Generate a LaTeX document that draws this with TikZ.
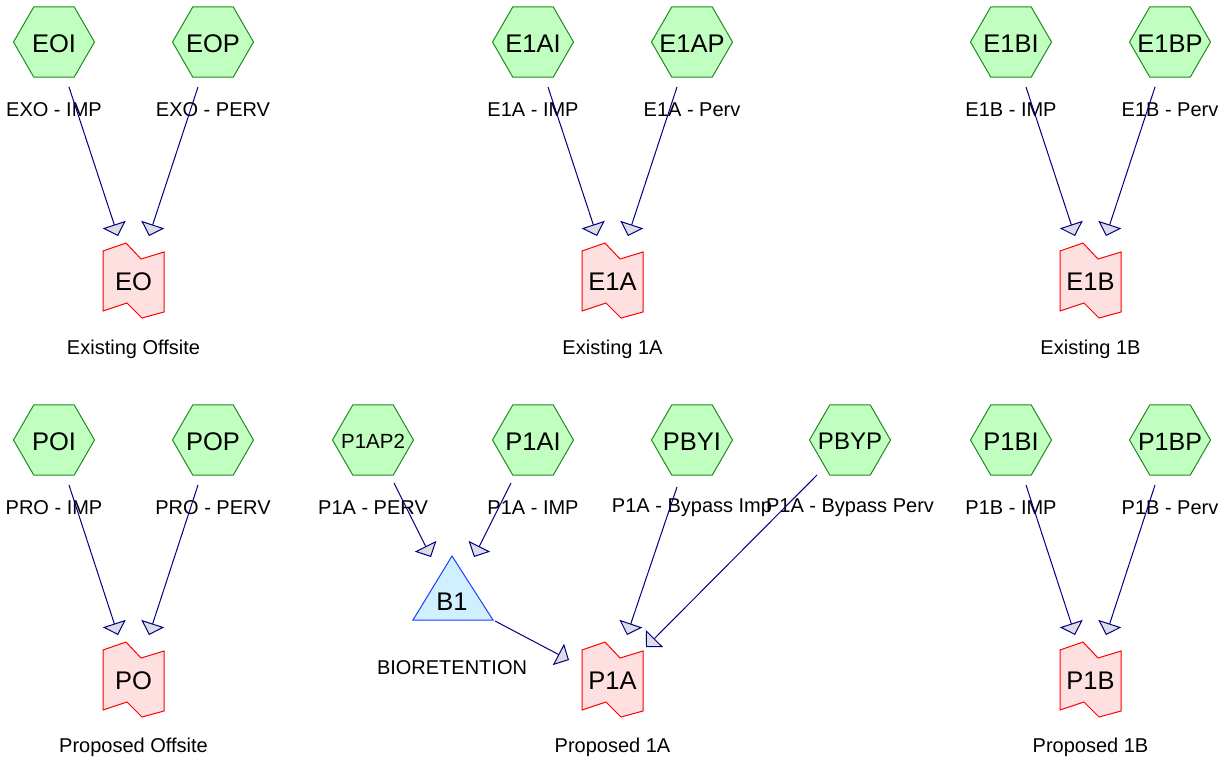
\documentclass[tikz,border=0pt]{standalone}
\usepackage{fontspec}
\setmainfont{Liberation Sans}
\usetikzlibrary{shapes.geometric,arrows.meta,calc}
\definecolor{hexfill}{HTML}{C0FFC0}
\definecolor{hexline}{HTML}{1E8C1E}
\definecolor{reachfill}{HTML}{FFE0E0}
\definecolor{reachline}{HTML}{FF0000}
\definecolor{pondfill}{HTML}{D0F0FF}
\definecolor{pondline}{HTML}{1E3CFF}
\definecolor{flowline}{HTML}{000080}
\definecolor{tipfill}{HTML}{DCDCE4}
\newcommand\hx[1]{\makebox[0pt]{\raisebox{-.415em}[0pt][0pt]{#1}}}
\begin{document}
\begin{tikzpicture}[x=1pt,y=-1pt,
  hexnode/.style={regular polygon, regular polygon sides=6, minimum size=81pt, inner sep=0pt,
    draw=hexline, fill=hexfill, line width=1pt, font=\fontsize{25.5}{26}\selectfont},
  reachtxt/.style={inner sep=0pt, font=\fontsize{25.5}{26}\selectfont},
  reachsty/.style={draw=reachline, fill=reachfill, line width=1pt, line join=miter},
  pondsty/.style={draw=pondline, fill=pondfill, line width=1pt, line join=miter},
  lbl/.style={inner sep=0pt, font=\fontsize{20}{20}\selectfont},
  flow/.style={draw=flowline, line width=1pt,
    -{Triangle[length=12pt,width=24pt,fill=tipfill,line width=1pt]}}
]
\useasboundingbox (0,0) rectangle (1225,761);

% ---------- reaches ----------
\foreach \rx/\ry in {133.5/281, 612.5/281, 1090.5/281, 133.5/680, 612.5/680, 1090.5/680}{
  \draw[reachsty, shift={(\rx,\ry)}] (-30.5,-30) -- (-7.5,-38) -- (7.5,-22) -- (30.5,-29)
     -- (30.5,31) -- (8.5,37) -- (-6.5,22) -- (-30.5,30) -- cycle;
}
\node[reachtxt] (EO)  at (133.5,282) {EO};
\node[reachtxt] (E1A) at (612.5,282) {E1A};
\node[reachtxt] (E1B) at (1090.5,282) {E1B};
\node[reachtxt] (PO)  at (133.5,681) {PO};
\node[reachtxt] (P1A) at (612.5,681) {P1A};
\node[reachtxt] (P1B) at (1090.5,681) {P1B};

\node[lbl] (lEO)  at (133.5,349) {Existing Offsite};
\node[lbl] (lE1A) at (612.5,349) {Existing 1A};
\node[lbl] (lE1B) at (1090.5,349) {Existing 1B};
\node[lbl] (lPO)  at (133.5,747) {Proposed Offsite};
\node[lbl] (lP1A) at (612.5,747) {Proposed 1A};
\node[lbl] (lP1B) at (1090.5,747) {Proposed 1B};

% ---------- pond ----------
\draw[pondsty] (452,556) -- (493,620) -- (413,620) -- cycle;
\node[reachtxt] (B1) at (452,602) {B1};
\node[lbl] (lB1) at (452,668) {BIORETENTION};

% ---------- subcatchments ----------
\node[hexnode] (EOI)  at (54,42)   {\hx{EOI}};
\node[hexnode] (EOP)  at (213,42)  {\hx{EOP}};
\node[hexnode] (E1AI) at (533,42)  {\hx{E1AI}};
\node[hexnode] (E1AP) at (692,42)  {\hx{E1AP}};
\node[hexnode] (E1BI) at (1011,42) {\hx{E1BI}};
\node[hexnode] (E1BP) at (1170,42) {\hx{E1BP}};
\node[hexnode] (POI)  at (54,440)  {\hx{POI}};
\node[hexnode] (POP)  at (213,440) {\hx{POP}};
\node[hexnode, font=\fontsize{20.5}{21}\selectfont] (P1AP2) at (373,440) {\hx{P1AP2}};
\node[hexnode] (P1AI) at (533,440) {\hx{P1AI}};
\node[hexnode] (PBYI) at (692,440) {\hx{PBYI}};
\node[hexnode, font=\fontsize{24}{24}\selectfont] (PBYP) at (850,440) {\hx{PBYP}};
\node[hexnode] (P1BI) at (1011,440) {\hx{P1BI}};
\node[hexnode, font=\fontsize{25}{25}\selectfont] (P1BP) at (1170,440) {\hx{P1BP}};

\node[lbl] (tEOI)  at (54,110)   {EXO - IMP};
\node[lbl] (tEOP)  at (213,110)  {EXO - PERV};
\node[lbl] (tE1AI) at (533,110)  {E1A - IMP};
\node[lbl] (tE1AP) at (692,110)  {E1A - Perv};
\node[lbl] (tE1BI) at (1011,110) {E1B - IMP};
\node[lbl] (tE1BP) at (1170,110) {E1B - Perv};
\node[lbl] (tPOI)  at (54,508)   {PRO - IMP};
\node[lbl] (tPOP)  at (213,508)  {PRO - PERV};
\node[lbl] (tP1AP2) at (373,508) {P1A - PERV};
\node[lbl] (tP1AI) at (533,508)  {P1A - IMP};
\node[lbl] (tPBYI) at (692,508)  {P1A - Bypass Imp};
\node[lbl] (tPBYP) at (850,508)  {P1A - Bypass Perv};
\node[lbl] (tP1BI) at (1011,508) {P1B - IMP};
\node[lbl] (tP1BP) at (1170,508) {P1B - Perv};

% ---------- connectors ----------
\draw[flow] ([shift={(15,45)}]EOI.center)  -- ([shift={(-15.5,-46)}]EO.center);
\draw[flow] ([shift={(-15,45)}]EOP.center) -- ([shift={(15.5,-46)}]EO.center);
\draw[flow] ([shift={(15,45)}]E1AI.center)  -- ([shift={(-15.5,-46)}]E1A.center);
\draw[flow] ([shift={(-15,45)}]E1AP.center) -- ([shift={(15.5,-46)}]E1A.center);
\draw[flow] ([shift={(15,45)}]E1BI.center)  -- ([shift={(-15.5,-46)}]E1B.center);
\draw[flow] ([shift={(-15,45)}]E1BP.center) -- ([shift={(15.5,-46)}]E1B.center);
\draw[flow] ([shift={(15,45)}]POI.center)  -- ([shift={(-15.5,-46)}]PO.center);
\draw[flow] ([shift={(-15,45)}]POP.center) -- ([shift={(15.5,-46)}]PO.center);
\draw[flow] ([shift={(15,45)}]P1BI.center)  -- ([shift={(-15.5,-46)}]P1B.center);
\draw[flow] ([shift={(-15,45)}]P1BP.center) -- ([shift={(15.5,-46)}]P1B.center);
\draw[flow] ([shift={(-15,47)}]PBYI.center) -- ([shift={(14.5,-46)}]P1A.center);
\draw[flow] ([shift={(-33,35)}]PBYP.center) -- ([shift={(33.5,-34)}]P1A.center);
\draw[flow] ([shift={(21,43)}]P1AP2.center) -- ([shift={(-21,-45)}]B1.center);
\draw[flow] ([shift={(-22,43)}]P1AI.center) -- ([shift={(22,-45)}]B1.center);
\draw[flow] ([shift={(43,19)}]B1.center) -- ([shift={(-43.5,-21)}]P1A.center);
\end{tikzpicture}
\end{document}
